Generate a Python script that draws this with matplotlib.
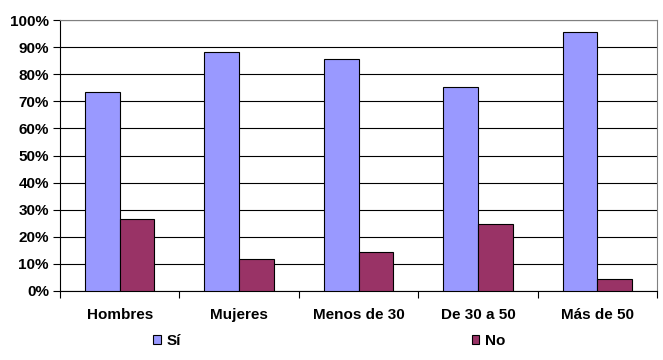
import numpy as np
import matplotlib.pyplot as plt
from matplotlib.ticker import FuncFormatter

# data (percent)
categories = ['Hombres', 'Mujeres', 'Menos de 30', 'De 30 a 50', 'Más de 50']
si_vals = [73.3, 88.3, 85.7, 75.4, 95.7]
no_vals = [26.7, 11.7, 14.3, 24.6, 4.3]
series_names = ['Sí', 'No']

plt.rcParams['font.family'] = ['Liberation Sans', 'DejaVu Sans']
plt.rcParams['font.size'] = 11
plt.rcParams['font.weight'] = 'bold'

fig = plt.figure(figsize=(6.63, 3.6), dpi=100)
ax = fig.add_axes([0.0905, 0.1917, 0.9005, 0.7527])

x = np.arange(len(categories))
w = 0.29
ax.bar(x - w / 2, si_vals, w, color='#9999FF', edgecolor='black', linewidth=0.8,
       label=series_names[0], zorder=3)
ax.bar(x + w / 2, no_vals, w, color='#993366', edgecolor='black', linewidth=0.8,
       label=series_names[1], zorder=3)

ax.set_xlim(-0.5, len(categories) - 0.5)
ax.set_ylim(0, 100)
ax.set_yticks(np.arange(0, 101, 10))
ax.yaxis.set_major_formatter(FuncFormatter(lambda v, _: f'{v:.0f}%'))
ax.grid(axis='y', color='black', linewidth=0.8, zorder=0)

# category labels between boundary ticks
ax.set_xticks(np.arange(-0.5, len(categories), 1.0))
ax.set_xticklabels([])
ax.set_xticks(x, minor=True)
ax.set_xticklabels(categories, minor=True)
ax.tick_params(axis='x', which='major', length=5, width=0.8, color='black')
ax.tick_params(axis='x', which='minor', length=0, pad=12)
ax.tick_params(axis='y', length=5, width=0.8, pad=3)

for s in ['left', 'bottom']:
    ax.spines[s].set_color('black')
    ax.spines[s].set_linewidth(0.8)
for s in ['top', 'right']:
    ax.spines[s].set_color('#808080')
    ax.spines[s].set_linewidth(0.8)

fig.legend(loc='center', bbox_to_anchor=(0.497, 0.053), ncol=2, frameon=False,
           handlelength=0.5, handleheight=0.5, handletextpad=0.4,
           columnspacing=19.0)

fig.savefig('out.png', dpi=100)
